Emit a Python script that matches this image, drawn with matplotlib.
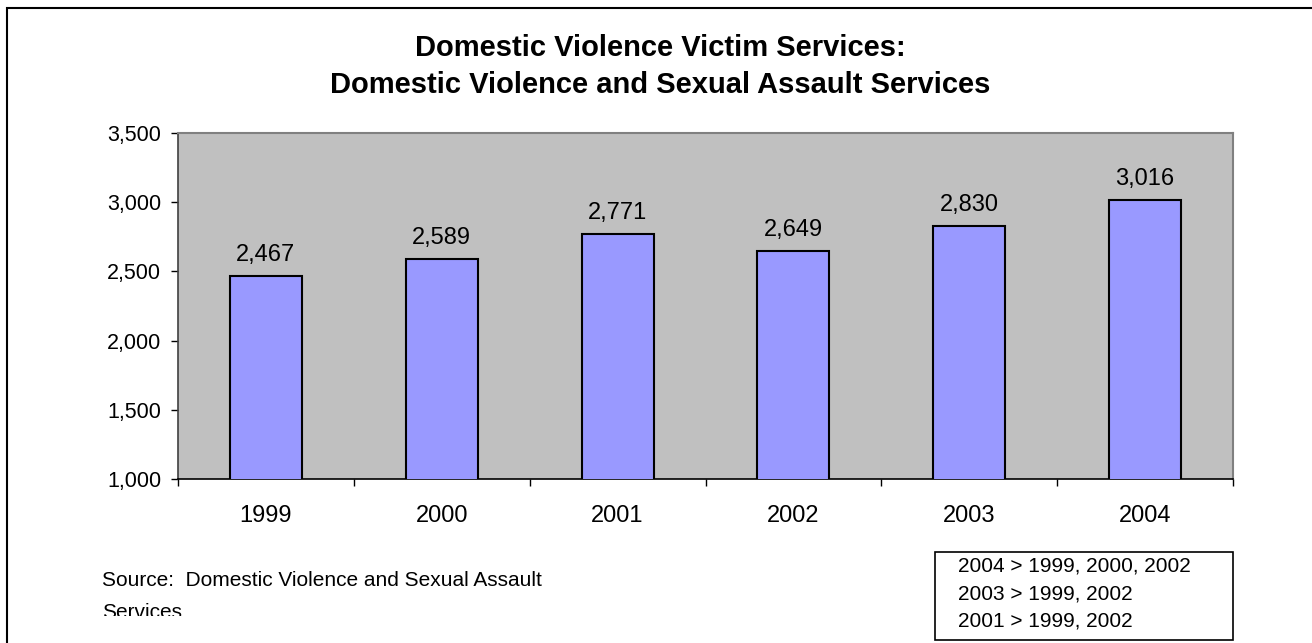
import numpy as np
import matplotlib
matplotlib.use("Agg")
import matplotlib.pyplot as plt
from matplotlib.patches import Rectangle

# Domestic violence victim services, by year
years = ["1999", "2000", "2001", "2002", "2003", "2004"]
victims = [2467, 2589, 2771, 2649, 2830, 3016]
y_ticks = [1000, 1500, 2000, 2500, 3000, 3500]
comparisons = ["2004 > 1999, 2000, 2002", "2003 > 1999, 2002", "2001 > 1999, 2002"]

plt.rcParams['font.family'] = ['Liberation Sans', 'DejaVu Sans']

W, H = 1312, 643
fig = plt.figure(figsize=(W / 100, H / 100), dpi=100)

def fx(px):
    return px / W

def fy(py):
    return 1 - py / H

# outer chart frame (runs off the right and bottom edges)
fig.patches.append(Rectangle((fx(7), fy(700)), fx(1400), fy(8) - fy(700),
                             transform=fig.transFigure, fill=False,
                             edgecolor='black', linewidth=1.5, zorder=0))

ax = fig.add_axes([fx(178), fy(479), fx(1233) - fx(178), fy(133) - fy(479)])
ax.set_facecolor('#C0C0C0')

x = np.arange(len(years))
bars = ax.bar(x, victims, width=0.41, color='#9999FF', edgecolor='black',
              linewidth=1.5, zorder=3)
ax.bar_label(bars, labels=[f"{v:,}" for v in victims], padding=7, fontsize=17)

ax.set_ylim(1000, 3500)
ax.set_yticks(y_ticks)
ax.set_yticklabels([f"{v:,}" for v in y_ticks], fontsize=15.5)
ax.set_xlim(-0.5, len(years) - 0.5)
ax.set_xticks(x)
ax.set_xticklabels(years, fontsize=17)
ax.set_xticks(np.arange(len(years) + 1) - 0.5, minor=True)
ax.tick_params(axis='x', which='major', length=0, pad=19)
ax.tick_params(axis='x', which='minor', length=5, width=1, color='black')
ax.tick_params(axis='y', length=5, width=1, pad=7)

for side in ['top', 'right']:
    ax.spines[side].set_color('#808080')
    ax.spines[side].set_linewidth(1.5)
ax.spines['left'].set_color('#404040')
ax.spines['bottom'].set_color('black')
ax.spines['left'].set_linewidth(1.2)
ax.spines['bottom'].set_linewidth(1.2)

fig.text(fx(660), fy(48), "Domestic Violence Victim Services:", ha='center',
         va='center', fontsize=21, fontweight='bold')
fig.text(fx(660), fy(85), "Domestic Violence and Sexual Assault Services",
         ha='center', va='center', fontsize=21, fontweight='bold')

# source note, second line cut off at the bottom of the text frame
fig.text(fx(102), fy(581), "Source:  Domestic Violence and Sexual Assault",
         ha='left', va='center', fontsize=15)
fig.text(fx(102), fy(613), "Services", ha='left', va='center', fontsize=15,
         zorder=1)
fig.patches.append(Rectangle((fx(90), fy(643)), fx(600), fy(616) - fy(643),
                             transform=fig.transFigure, facecolor='white',
                             edgecolor='none', zorder=2))

# significance box
fig.patches.append(Rectangle((fx(935), fy(640)), fx(1233) - fx(935), fy(552) - fy(640),
                             transform=fig.transFigure, fill=False,
                             edgecolor='black', linewidth=1.2, zorder=3))
for i, line in enumerate(comparisons):
    fig.text(fx(958), fy(566 + 27.5 * i), line, ha='left', va='center',
             fontsize=15, zorder=4)

fig.savefig("out.png", dpi=100)
